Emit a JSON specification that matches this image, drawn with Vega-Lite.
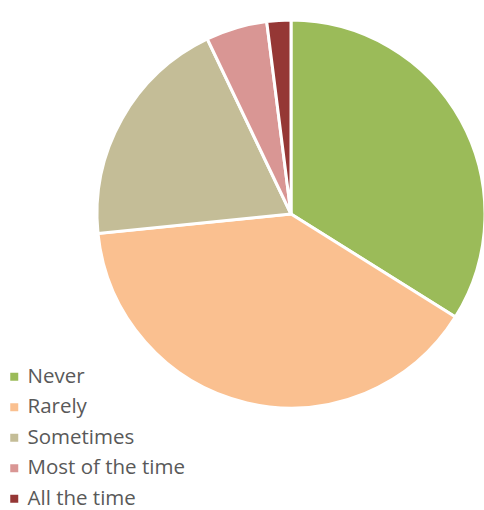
{
  "$schema": "https://vega.github.io/schema/vega-lite/v6.json",
  "autosize": {"type": "none"},
  "padding": {"left": 97, "top": 20, "right": 0, "bottom": 102},
  "width": 388,
  "height": 388,
  "background": "white",
  "data": {"values": [
    {"category": "Never", "order": 1, "value": 33.9},
    {"category": "Rarely", "order": 2, "value": 39.5},
    {"category": "Sometimes", "order": 3, "value": 19.5},
    {"category": "Most of the time", "order": 4, "value": 5.1},
    {"category": "All the time", "order": 5, "value": 2.0}
  ]},
  "mark": {"type": "arc", "stroke": "white", "strokeWidth": 3},
  "encoding": {
    "theta": {"field": "value", "type": "quantitative", "stack": true},
    "order": {"field": "order", "type": "quantitative", "sort": "ascending"},
    "color": {
      "field": "category", "type": "nominal",
      "sort": ["Never", "Rarely", "Sometimes", "Most of the time", "All the time"],
      "scale": {
        "domain": ["Never", "Rarely", "Sometimes", "Most of the time", "All the time"],
        "range": ["#9BBB59", "#FAC090", "#C4BD97", "#D99694", "#953735"]
      },
      "legend": {
        "title": null,
        "orient": "none",
        "legendX": -93,
        "legendY": 346.5,
        "symbolType": "square",
        "symbolSize": 64,
        "symbolStrokeWidth": 0,
        "labelFont": "Open Sans",
        "labelFontSize": 20.5,
        "labelColor": "#595959",
        "rowPadding": 9.5,
        "labelOffset": 3,
        "labelLimit": 300
      }
    }
  },
  "config": {"view": {"stroke": null}}
}
